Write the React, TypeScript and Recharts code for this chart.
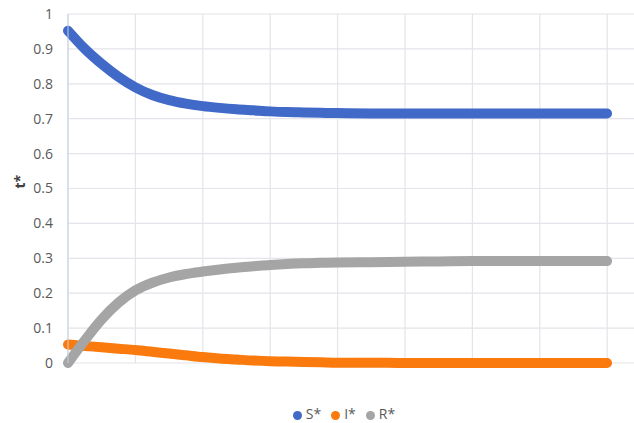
import { LineChart, Line, XAxis, YAxis, CartesianGrid, Legend } from 'recharts'

// time steps (x axis has no visible labels)
const times = [
  0, 0.25, 0.5, 0.75, 1, 1.25, 1.5, 1.75, 2, 2.25, 2.5, 2.75, 3, 3.25, 3.5, 3.75, 4,
  4.5, 5, 5.5, 6, 6.5, 7, 7.5, 8,
]
const sValues = [
  0.952, 0.9, 0.857, 0.82, 0.79, 0.768, 0.753, 0.743, 0.736, 0.731, 0.727, 0.724, 0.721,
  0.719, 0.718, 0.717, 0.716, 0.715, 0.715, 0.715, 0.715, 0.715, 0.715, 0.715, 0.715,
]
const iValues = [
  0.053, 0.049, 0.045, 0.041, 0.037, 0.032, 0.027, 0.022, 0.017, 0.013, 0.01, 0.007, 0.005,
  0.004, 0.003, 0.002, 0.001, 0.001, 0, 0, 0, 0, 0, 0, 0,
]
const rValues = [
  0, 0.065, 0.125, 0.173, 0.208, 0.23, 0.245, 0.255, 0.262, 0.268, 0.273, 0.277, 0.281,
  0.284, 0.286, 0.287, 0.288, 0.289, 0.29, 0.291, 0.292, 0.292, 0.292, 0.292, 0.292,
]
const legendOrder = ['S*', 'I*', 'R*']
const xTicks = [0, 1, 2, 3, 4, 5, 6, 7, 8]
const yTicks = [0, 0.1, 0.2, 0.3, 0.4, 0.5, 0.6, 0.7, 0.8, 0.9, 1]

const data = times.map((t, i) => ({ t, S: sValues[i], I: iValues[i], R: rValues[i] }))

const font = '"Open Sans", "Liberation Sans", sans-serif'

export default function App() {
  return (
    <div style={{ position: 'absolute', left: 0, top: 0, background: '#fff', fontFamily: font }}>
      <LineChart width={634} height={423} data={data} margin={{ top: 14, right: 0, bottom: 41, left: 0 }}>
        <CartesianGrid stroke="#e4e4ea" strokeWidth={1.2} verticalPoints={xTicks.map((t) => 68 + t * 67.4)} />
        <XAxis
          dataKey="t"
          type="number"
          domain={[0, 8.4]}
          ticks={xTicks}
          tick={false}
          tickLine={false}
          axisLine={{ stroke: '#e4e4ea' }}
          height={0}
        />
        <YAxis
          domain={[0, 1]}
          ticks={yTicks}
          width={68}
          tickSize={0}
          tickMargin={15}
          tickLine={false}
          axisLine={{ stroke: '#c5d0e4' }}
          tick={{ fill: '#595959', fontSize: 14, fontFamily: font }}
          tickFormatter={(v: number) => (v === 0 || v === 1 ? String(v) : v.toFixed(1))}
          label={{ value: 't*', angle: -90, position: 'insideLeft', offset: 20, fill: '#404040', fontSize: 14, fontWeight: 'bold', fontFamily: font }}
        />
        <Legend
          verticalAlign="bottom"
          iconType="circle"
          iconSize={9}
          itemSorter={(item: { value: string }) => legendOrder.indexOf(item.value)}
          wrapperStyle={{ bottom: 0, left: 281, width: 136, fontSize: 14, fontFamily: font }}
          formatter={(value: string) => <span style={{ color: '#595959' }}>{value}</span>}
        />
        <Line type="monotone" dataKey="S" name="S*" stroke="#4169C8" strokeWidth={10} strokeLinecap="round" dot={false} isAnimationActive={false} />
        <Line type="monotone" dataKey="I" name="I*" stroke="#FA7A0E" strokeWidth={10} strokeLinecap="round" dot={false} isAnimationActive={false} />
        <Line type="monotone" dataKey="R" name="R*" stroke="#A5A5A5" strokeWidth={10} strokeLinecap="round" dot={false} isAnimationActive={false} />
      </LineChart>
    </div>
  )
}
